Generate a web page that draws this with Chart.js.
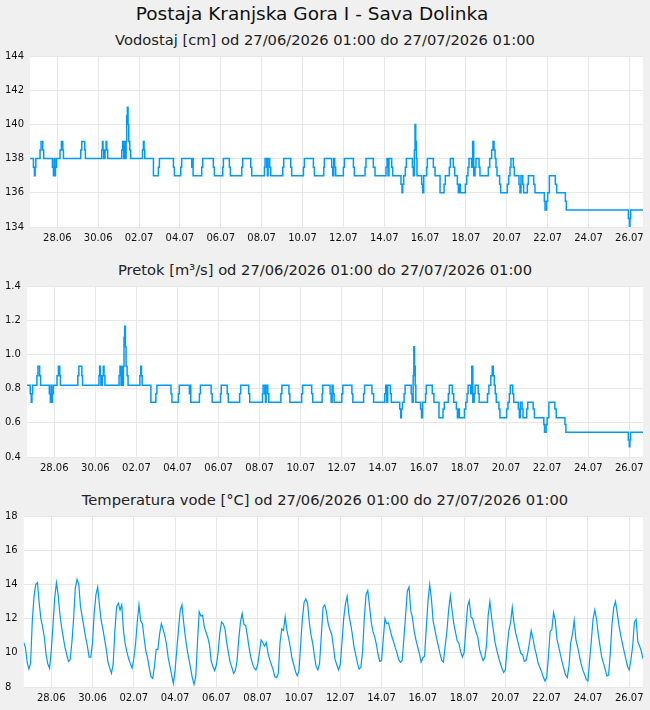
<!DOCTYPE html>
<html>
<head>
<meta charset="utf-8">
<script src="https://cdn.jsdelivr.net/npm/chart.js@4/dist/chart.umd.min.js"></script>
<style>
    body { margin: 0; background: #f0f0f0; width: 650px; height: 710px; overflow: hidden; font-family: "DejaVu Sans", sans-serif; }
    .txt { position: absolute; left: 0; width: 650px; text-align: center; color: #111; white-space: nowrap; }
    #title { top: 3px; left: -13px; font-size: 18.5px; }
    .sub { font-size: 14.7px; color: #222; }
    .panel { position: absolute; left: 0; width: 650px; height: 204px; }
</style>
</head>
<body>
<div id="title" class="txt">Postaja Kranjska Gora I - Sava Dolinka</div>
<div class="txt sub" style="top:31px">Vodostaj [cm] od 27/06/2026 01:00 do 27/07/2026 01:00</div>
<div class="txt sub" style="top:261px">Pretok [m³/s] od 27/06/2026 01:00 do 27/07/2026 01:00</div>
<div class="txt sub" style="top:491px">Temperatura vode [°C] od 27/06/2026 01:00 do 27/07/2026 01:00</div>
<div class="panel" style="top:45px"><canvas id="levelChart" width="650" height="204"></canvas></div>
<div class="panel" style="top:275px"><canvas id="flowChart" width="650" height="204"></canvas></div>
<div class="panel" style="top:505px"><canvas id="tempChart" width="650" height="204"></canvas></div>
<script>
// x axis: hours since 27/06/2026 01:00
const dayLabels = ["28.06", "30.06", "02.07", "04.07", "06.07", "08.07", "10.07", "12.07",
    "14.07", "16.07", "18.07", "20.07", "22.07", "24.07", "26.07"];
const firstTickHour = 32;
const tickEveryHours = 48;
const totalHours = 720;

// water level / flow: value changes at these hours (held until the next one)
const levelHours = [
    0, 3.9, 5.1, 5.9, 6.7, 11.7, 12.9, 14.9, 16.0, 26.2,
    27.4, 28.2, 29.0, 29.8, 30.9, 35.2, 36.8, 38.4, 39.2, 59.5,
    60.7, 64.2, 65.0, 84.2, 85.0, 85.7, 86.5, 88.1, 89.3, 90.1,
    91.2, 107.7, 108.8, 110.0, 111.2, 112.0, 112.8, 113.5, 114.3, 115.1,
    115.9, 117.1, 118.2, 132.0, 133.1, 133.9, 134.7, 144.9, 150.7, 151.9,
    168.4, 169.5, 177.0, 178.1, 189.9, 190.7, 191.5, 201.6, 202.8, 215.3,
    216.5, 226.3, 227.1, 234.1, 235.3, 248.6, 249.8, 259.2, 260.4, 275.3,
    276.0, 278.0, 278.8, 279.6, 281.5, 282.7, 296.8, 298.0, 306.2, 307.3,
    321.1, 322.2, 332.8, 334.0, 345.0, 345.7, 354.3, 355.5, 356.7, 357.8,
    359.0, 368.0, 369.2, 379.8, 380.9, 393.5, 394.6, 403.2, 405.2, 418.1,
    419.3, 420.5, 421.6, 424.8, 425.9, 435.7, 436.9, 437.7, 438.9, 440.8,
    442.0, 449.1, 450.2, 451.4, 452.2, 453.0, 453.8, 454.5, 460.0, 461.2,
    462.4, 465.9, 466.7, 473.7, 475.7, 481.6, 486.3, 487.8, 492.5, 493.7,
    497.2, 498.8, 501.9, 503.1, 504.3, 505.4, 511.3, 512.9, 514.4, 515.6,
    518.7, 519.9, 521.1, 522.7, 523.8, 527.4, 528.5, 538.3, 539.9, 542.2,
    543.8, 545.0, 546.2, 547.3, 548.5, 551.6, 552.8, 560.6, 562.2, 563.8,
    564.9, 567.7, 568.9, 574.3, 575.5, 576.7, 578.7, 579.8, 584.1, 585.3,
    591.6, 593.1, 604.1, 604.9, 606.8, 608.0, 610.0, 617.0, 618.6, 628.8,
    629.9, 702.8, 704.0, 704.7, 705.5, 720
];
const levelValues = [
    138, 137.5, 137, 137.5, 138, 138.5, 139, 138.5, 138, 137.5,
    137, 138, 137, 137.5, 138, 138.5, 139, 138.5, 138, 138.5,
    139, 138.5, 138, 138.5, 139, 138.5, 138, 138.5, 139, 138.5,
    138, 138.5, 139, 138, 139, 138, 139, 140.5, 141, 140,
    139, 138.5, 138, 138.5, 139, 138.5, 138, 137, 137.5, 138,
    137.5, 137, 137.5, 138, 137.5, 138, 137, 137.5, 138, 137.5,
    137, 137.5, 138, 137.5, 137, 137.5, 138, 137.5, 137, 137.5,
    138, 137.5, 137, 138, 137.5, 137, 137.5, 138, 137.5, 137,
    137.5, 138, 137.5, 137, 137.5, 138, 137.5, 137, 138, 137.5,
    137, 137.5, 138, 137.5, 137, 137.5, 138, 137.5, 137, 137.5,
    138, 137, 138, 137.5, 137, 136.5, 136, 136.5, 137, 137.5,
    138, 137.5, 137, 138.5, 140, 139, 138, 137, 136.5, 136,
    137, 137.5, 138, 137.5, 137, 136, 136.5, 137, 137.5, 138,
    137.5, 137, 136.5, 136, 136.5, 136, 136.5, 137, 137.5, 138,
    137.5, 139, 137, 137.5, 138, 137.5, 137, 137.5, 138, 138.5,
    139, 138.5, 138, 137.5, 137, 136.5, 136, 136.5, 137, 137.5,
    138, 137.5, 137, 136.5, 136, 137, 136.5, 136, 136.5, 137,
    136.5, 136, 135.5, 135, 135.5, 136, 137, 136.5, 136, 135.5,
    135, 134.5, 134, 134.5, 135, 135
];
const flowValues = [
    0.82, 0.77, 0.72, 0.77, 0.82, 0.875, 0.93, 0.875, 0.82, 0.77,
    0.72, 0.82, 0.72, 0.77, 0.82, 0.875, 0.93, 0.875, 0.82, 0.875,
    0.93, 0.875, 0.82, 0.875, 0.93, 0.875, 0.82, 0.875, 0.93, 0.875,
    0.82, 0.875, 0.93, 0.82, 0.93, 0.82, 0.93, 1.10, 1.165, 1.045,
    0.93, 0.875, 0.82, 0.875, 0.93, 0.875, 0.82, 0.72, 0.77, 0.82,
    0.77, 0.72, 0.77, 0.82, 0.77, 0.82, 0.72, 0.77, 0.82, 0.77,
    0.72, 0.77, 0.82, 0.77, 0.72, 0.77, 0.82, 0.77, 0.72, 0.77,
    0.82, 0.77, 0.72, 0.82, 0.77, 0.72, 0.77, 0.82, 0.77, 0.72,
    0.77, 0.82, 0.77, 0.72, 0.77, 0.82, 0.77, 0.72, 0.82, 0.77,
    0.72, 0.77, 0.82, 0.77, 0.72, 0.77, 0.82, 0.77, 0.72, 0.77,
    0.82, 0.72, 0.82, 0.77, 0.72, 0.68, 0.63, 0.68, 0.72, 0.77,
    0.82, 0.77, 0.72, 0.875, 1.045, 0.93, 0.82, 0.72, 0.68, 0.63,
    0.72, 0.77, 0.82, 0.77, 0.72, 0.63, 0.68, 0.72, 0.77, 0.82,
    0.77, 0.72, 0.68, 0.63, 0.68, 0.63, 0.68, 0.72, 0.77, 0.82,
    0.77, 0.93, 0.72, 0.77, 0.82, 0.77, 0.72, 0.77, 0.82, 0.875,
    0.93, 0.875, 0.82, 0.77, 0.72, 0.68, 0.63, 0.68, 0.72, 0.77,
    0.82, 0.77, 0.72, 0.68, 0.63, 0.72, 0.68, 0.63, 0.68, 0.72,
    0.68, 0.63, 0.59, 0.545, 0.59, 0.63, 0.72, 0.68, 0.63, 0.59,
    0.545, 0.50, 0.46, 0.50, 0.545, 0.545
];

// water temperature, one reading every 2 hours (12 per row = one day)
const tempStepHours = 2;
const tempValues = [
    10.6, 10.3, 9.45, 9.05, 9.4, 11.9, 13.3, 14.0, 14.1, 12.9, 12.0, 11.5,
    10.9, 9.9, 9.35, 9.1, 10.1, 11.6, 13.2, 14.1, 13.4, 12.3, 11.5, 10.9,
    10.3, 9.9, 9.5, 9.6, 10.6, 12.0, 13.8, 14.3, 14.0, 12.7, 12.1, 11.5,
    10.9, 10.4, 9.75, 9.75, 10.6, 12.35, 13.4, 13.85, 12.8, 11.9, 11.4, 10.8,
    10.2, 9.45, 9.1, 8.8, 9.35, 11.3, 12.7, 12.9, 12.5, 12.8, 11.3, 10.5,
    10.05, 9.65, 9.35, 9.1, 9.65, 10.5, 11.8, 12.8, 11.85, 11.7, 10.85, 10.1,
    9.7, 9.1, 8.6, 8.5, 9.2, 10.2, 10.2, 11.1, 11.7, 11.4, 11.0, 10.5,
    9.7, 9.2, 8.7, 8.2, 9.0, 10.2, 11.4, 12.5, 12.8, 11.75, 10.9, 10.2,
    9.65, 9.1, 8.55, 8.15, 8.6, 10.6, 12.4, 12.15, 12.2, 11.5, 11.2, 10.9,
    10.45, 9.5, 9.2, 8.95, 9.3, 10.0, 11.15, 11.8, 11.7, 11.4, 10.6, 10.0,
    9.45, 9.15, 8.8, 8.95, 9.5, 10.8, 11.8, 12.3, 11.65, 11.6, 11.0, 10.3,
    9.75, 9.35, 9.1, 9.0, 9.3, 10.0, 10.75, 10.6, 10.4, 10.6, 10.0, 9.6,
    9.3, 9.0, 8.6, 8.55, 8.8, 10.6, 11.4, 11.3, 12.1, 11.3, 10.85, 10.3,
    9.65, 9.3, 8.9, 8.65, 8.95, 10.5, 12.0, 12.95, 13.15, 12.9, 11.8, 11.05,
    10.55, 9.8, 9.2, 9.0, 9.4, 11.0, 12.65, 12.8, 12.4, 11.7, 11.35, 11.1,
    10.4, 9.6, 9.3, 9.0, 9.3, 10.6, 12.0, 12.85, 13.3, 12.25, 11.7, 11.1,
    10.35, 9.9, 9.4, 9.05, 9.15, 10.1, 12.05, 13.4, 13.65, 12.75, 11.8, 11.25,
    10.95, 10.5, 9.9, 9.5, 9.55, 10.8, 12.0, 11.7, 11.75, 11.35, 10.95, 10.65,
    10.3, 10.0, 9.6, 9.45, 9.55, 10.85, 12.2, 13.6, 13.85, 12.45, 12.05, 11.25,
    10.75, 10.35, 9.95, 9.45, 9.7, 9.8, 11.4, 13.0, 14.0, 13.15, 11.85, 11.35,
    10.85, 10.4, 9.95, 9.55, 9.45, 10.4, 11.25, 12.5, 13.35, 12.5, 11.7, 11.2,
    10.7, 10.55, 10.05, 9.75, 10.0, 11.35, 12.7, 13.05, 12.1, 12.0, 11.55, 11.2,
    10.9, 10.2, 9.85, 9.55, 9.7, 10.4, 12.2, 13.0, 12.05, 11.35, 10.6, 10.15,
    9.75, 9.4, 9.1, 8.85, 9.0, 10.3, 11.3, 11.75, 12.65, 11.75, 11.15, 10.75,
    10.35, 9.95, 9.9, 9.5, 9.55, 10.0, 10.6, 11.3, 10.85, 10.3, 9.9, 9.4,
    9.15, 8.9, 8.6, 8.35, 8.55, 9.75, 11.25, 11.35, 12.35, 11.9, 10.8, 10.35,
    9.9, 9.45, 9.05, 8.7, 8.55, 9.25, 10.6, 11.1, 11.9, 10.75, 10.35, 9.85,
    9.35, 9.0, 8.75, 8.45, 8.35, 9.6, 10.75, 12.0, 12.5, 11.95, 11.1, 10.4,
    9.75, 9.4, 9.05, 8.65, 8.7, 10.0, 11.7, 12.65, 13.0, 12.35, 11.6, 11.05,
    10.55, 10.1, 9.65, 9.2, 9.0, 9.6, 10.4, 11.8, 11.95, 10.65, 10.4, 10.1,
    9.65
];

const lineColor = "#0099ff";
const gridColor = "#e8e8e8";
const tickFont = { family: "DejaVu Sans", size: 10 };

const tickHours = dayLabels.map((_, i) => firstTickHour + i * tickEveryHours);

// white plot area on the grey page
const plotBackground = {
    id: "plotBackground",
    beforeDraw(chart) {
        const { ctx, chartArea } = chart;
        ctx.save();
        ctx.fillStyle = "#ffffff";
        ctx.fillRect(chartArea.left, chartArea.top, chartArea.width, chartArea.height);
        ctx.restore();
    }
};

function makeChart(id, hours, values, yMin, yMax, yStep, width, stepped) {
    const points = hours.map((h, i) => ({ x: h, y: values[i] }));
    return new Chart(document.getElementById(id), {
        type: "line",
        data: {
            datasets: [{
                data: points,
                borderColor: lineColor,
                borderWidth: width,
                pointRadius: 0,
                stepped: stepped,
                fill: false
            }]
        },
        options: {
            responsive: false,
            animation: false,
            layout: { padding: { top: 11, left: 5, right: 7, bottom: 0 } },
            plugins: { legend: { display: false }, tooltip: { enabled: false } },
            scales: {
                x: {
                    type: "linear",
                    min: 0,
                    max: totalHours,
                    grid: { color: gridColor, drawTicks: false },
                    border: { display: false },
                    afterBuildTicks: axis => {
                        axis.ticks = tickHours.map(v => ({ value: v }));
                    },
                    ticks: {
                        font: tickFont,
                        color: "#111",
                        padding: 5,
                        maxRotation: 0,
                        autoSkip: false,
                        callback: (value, index) => dayLabels[index]
                    }
                },
                y: {
                    min: yMin,
                    max: yMax,
                    grid: { color: gridColor, drawTicks: false },
                    border: { display: false },
                    ticks: {
                        stepSize: yStep,
                        font: tickFont,
                        color: "#111",
                        padding: 3,
                        crossAlign: "far"
                    }
                }
            }
        },
        plugins: [plotBackground]
    });
}

const tempHours = tempValues.map((_, i) => i * tempStepHours);

makeChart("levelChart", levelHours, levelValues, 134, 144, 2, 1.5, true);
makeChart("flowChart", levelHours, flowValues, 0.4, 1.4, 0.2, 1.5, true);
makeChart("tempChart", tempHours, tempValues, 8, 18, 2, 1.2, false);
</script>
</body>
</html>
